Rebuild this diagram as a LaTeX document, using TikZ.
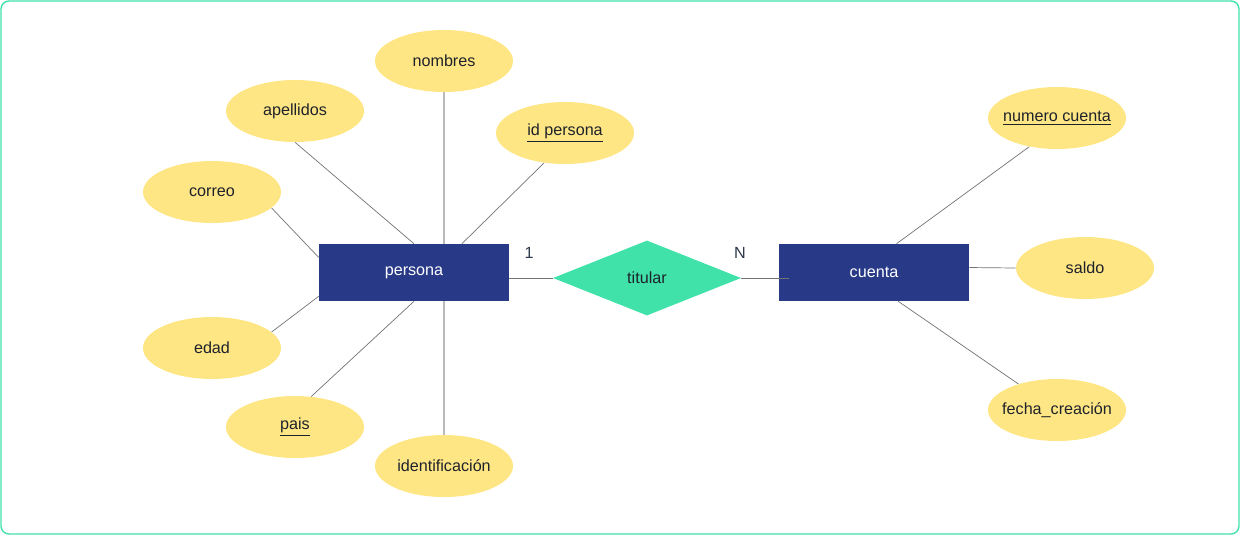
\documentclass[tikz,border=0pt]{standalone}
\usepackage{fontspec}
\setmainfont{Liberation Sans}
\usetikzlibrary{shapes.geometric,backgrounds}

\definecolor{entblue}{HTML}{283A87}
\definecolor{attyellow}{HTML}{FFE685}
\definecolor{relgreen}{HTML}{40E2A9}
\definecolor{txtdark}{HTML}{1E222A}
\definecolor{cardgray}{HTML}{2E3A4C}

%label of fixed size ellipse, no growth for long text
\newcommand{\attlabel}[1]{\makebox[0pt]{#1}}

\tikzset{
	entity/.style={rectangle, fill=entblue, text=white, minimum width=4.75cm, minimum height=1.425cm, inner sep=0},
	attrib/.style={ellipse, fill=attyellow, text=txtdark, minimum width=3.45cm, minimum height=1.55cm, inner sep=0},
	relation/.style={diamond, fill=relgreen, text=txtdark, minimum width=4.7cm, minimum height=1.875cm, inner sep=0},
	link/.style={draw=black!55, line width=0.5pt},
	axis link/.style={draw=black!27, line width=0.9pt},
	card/.style={text=cardgray, inner sep=0}
}

\begin{document}
\begin{tikzpicture}[x=0.025cm, y=-0.025cm, font=\fontsize{11.5}{13}\selectfont]
	\useasboundingbox (0,0) rectangle (1240,535);
	\draw[relgreen, line width=1pt, rounded corners=0.2cm] (1,1) rectangle (1239,534);

	%entities and relation
	\node[entity] (persona) at (414,272.5) {persona};
	\node[entity] (cuenta) at (874,272.5) {cuenta};
	\node[relation] (titular) at (647,278) {titular};

	%cardinalities
	\node[card] (one) at (529,253) {1};
	\node[card] (many) at (740,253) {N};

	%attributes of persona
	\node[attrib] (nombres) at (444,61) {\attlabel{nombres}};
	\node[attrib] (apellidos) at (295,111) {\attlabel{apellidos}};
	\node[attrib] (idpersona) at (565,133) {\attlabel{\underline{id persona}}};
	\node[attrib] (correo) at (212,192) {\attlabel{correo}};
	\node[attrib] (edad) at (212,348) {\attlabel{edad}};
	\node[attrib] (pais) at (295,427) {\attlabel{\underline{pais}}};
	\node[attrib] (identificacion) at (444,466) {\attlabel{identificación}};

	%attributes of cuenta
	\node[attrib] (numerocuenta) at (1057,118) {\attlabel{\underline{numero cuenta}}};
	\node[attrib] (saldo) at (1085,268) {\attlabel{saldo}};
	\node[attrib] (fecha) at (1057,410) {\attlabel{fecha\_creación}};

	%connectors behind the shapes
	\begin{scope}[on background layer]
		\draw[axis link] (nombres.south) -- (identificacion.north);
		\draw[link] (apellidos.south) -- (persona.north);
		\draw[link] (idpersona.235) -- (persona.31);
		\draw[link] (correo.-15) -- (persona.171);
		\draw[link] (edad.15) -- (persona.194);
		\draw[link] (pais.62) -- (persona.south);

		\draw[link] (numerocuenta.226) -- (cuenta.52);
		\draw[link] (saldo.west) -- (cuenta.3);
		\draw[link] (fecha.146) -- (cuenta.-50);
	\end{scope}
	\draw[link] (persona.east |- titular) -- (titular.west);
	\draw[link] (titular.east) -- ++(48,0) coordinate (cuentaend);
\end{tikzpicture}
\end{document}
